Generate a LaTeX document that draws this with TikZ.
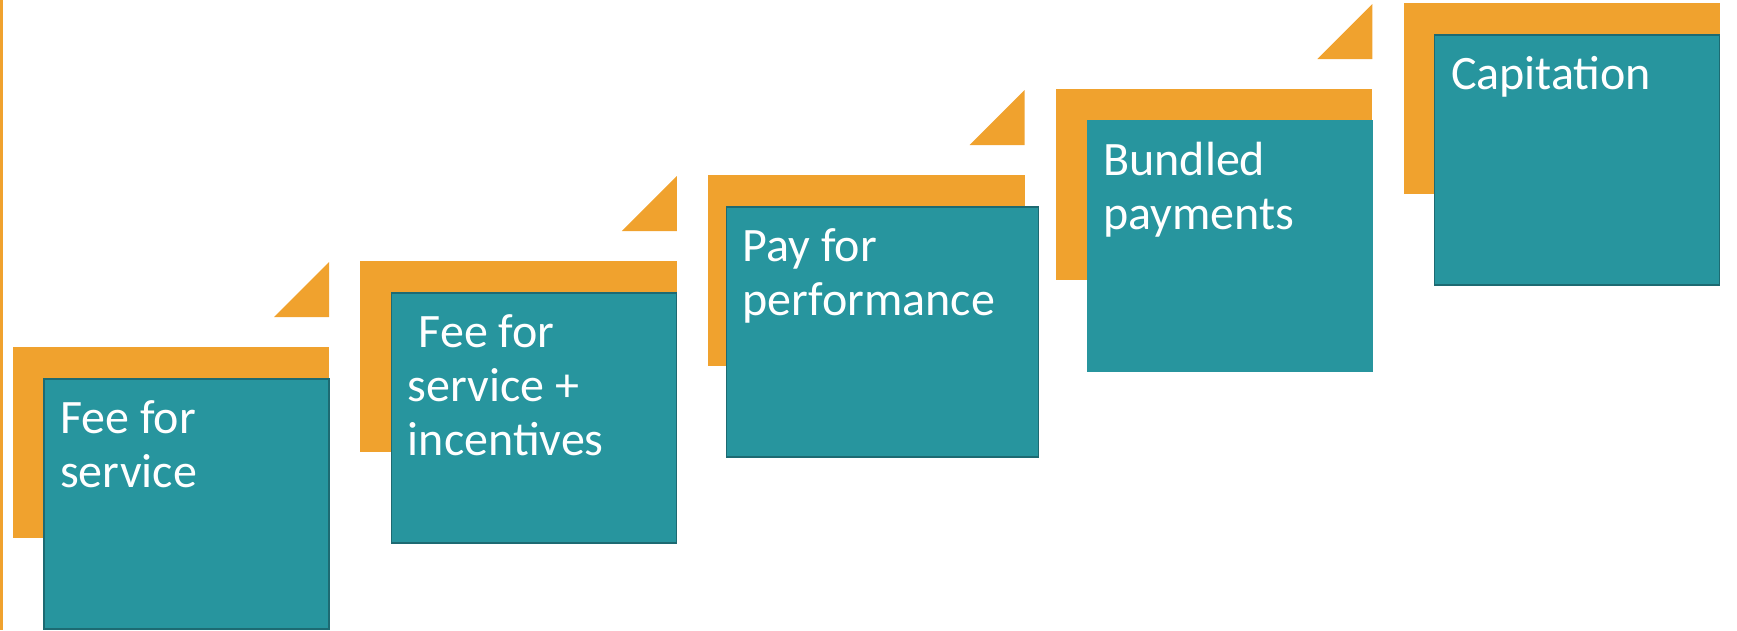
\documentclass[tikz,border=0pt]{standalone}
\usepackage{fontspec}
\setmainfont{Carlito}
\definecolor{accorange}{HTML}{F0A22E}
\definecolor{tealfill}{HTML}{27959E}
\definecolor{tealedge}{HTML}{1D6A72}
\begin{document}
\begin{tikzpicture}[x=1pt,y={(0,-1pt)},
  backbox/.style={fill=accorange, draw=none, inner sep=0, outer sep=0, anchor=north west, minimum width=316.5pt, minimum height=191pt},
  frontbox/.style={fill=tealfill, draw=tealedge, line width=1.2pt, inner sep=0, outer sep=0, anchor=north west, minimum height=250pt},
  boxtext/.style={text=white, font=\fontsize{48}{54}\selectfont, inner sep=0, anchor=base west},
  stepflag/.style={fill=accorange}]
\useasboundingbox (0,0) rectangle (1737,630);
\fill[accorange] (0,0) rectangle (3,630);
\foreach \i/\dx/\w/\edge/\txt in {
  0/0/285/tealedge/{Fee for\\service},
  1/0/285/tealedge/{\ Fee for\\service +\\incentives},
  2/-13/312/tealedge/{Pay for\\performance},
  3/0/285/tealfill/{Bundled\\payments},
  4/0/285/tealedge/{Capitation}}{
  \node[backbox] (o\i) at (12.7+347.7*\i, 347-86*\i) {};
  \node[frontbox, draw=\edge, minimum width=\w pt] (t\i) at (44+347.7*\i+\dx, 379-86*\i) {};
  \node[boxtext] (x\i) at ([shift={(16pt,-54pt)}]t\i.north west) {\begin{tabular}[t]{@{}l@{}}\txt\end{tabular}};
}
\foreach \i in {0,1,2,3}{
  \coordinate (a\i) at ([shift={(0pt,30pt)}]o\i.north east);
  \fill[stepflag] (a\i) -- ++(-55pt,0) -- ++(55pt,55pt) -- cycle;
}
\end{tikzpicture}
\end{document}
